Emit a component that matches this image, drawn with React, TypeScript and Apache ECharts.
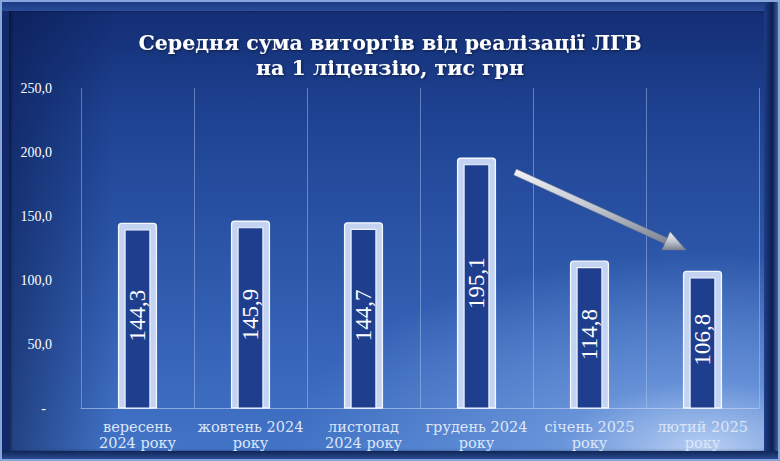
import React, { useEffect, useRef } from "react";
import * as echarts from "echarts";

const categories = [
  "вересень\n2024 року",
  "жовтень 2024\nроку",
  "листопад\n2024 року",
  "грудень 2024\nроку",
  "січень 2025\nроку",
  "лютий 2025\nроку",
];
const values = [144.3, 145.9, 144.7, 195.1, 114.8, 106.8];
const yTicks = [0, 50, 100, 150, 200, 250];
const titleLines = ["Середня сума виторгів від реалізації ЛГВ", "на 1 ліцензію, тис грн"];

const fmt = (v: number) => v.toFixed(1).replace(".", ",");

export default function App() {
  const ref = useRef<HTMLDivElement>(null);
  useEffect(() => {
    if (!ref.current) return;
    const chart = echarts.init(ref.current, null, { renderer: "svg" });
    const S = [515, 172];
    const T = [686, 250];
    const dx = T[0] - S[0], dy = T[1] - S[1];
    const L = Math.hypot(dx, dy);
    const u = [dx / L, dy / L];
    const p = [-u[1], u[0]];
    const B = [T[0] - 22 * u[0], T[1] - 22 * u[1]];
    const hw = 3.2, hh = 10;
    const shaft = [
      [S[0] + hw * p[0], S[1] + hw * p[1]],
      [B[0] + hw * p[0], B[1] + hw * p[1]],
      [B[0] - hw * p[0], B[1] - hw * p[1]],
      [S[0] - hw * p[0], S[1] - hw * p[1]],
    ];
    const head = [
      [B[0] + hh * p[0], B[1] + hh * p[1]],
      T,
      [B[0] - hh * p[0], B[1] - hh * p[1]],
    ];
    const arrowFill = new echarts.graphic.LinearGradient(0, 0, 0, 1, [
      { offset: 0, color: "#f2f3f7" },
      { offset: 0.5, color: "#c4c8d2" },
      { offset: 1, color: "#7c8292" },
    ]);

    chart.setOption({
      animation: false,
      backgroundColor: "transparent",
      title: {
        text: titleLines.join("\n"),
        left: "center",
        top: 30,
        padding: 0,
        textStyle: {
          color: "#ffffff",
          fontFamily: "DejaVu Serif",
          fontWeight: "bold",
          fontSize: 20.5,
          lineHeight: 25,
          textShadowColor: "rgba(0,0,20,0.5)",
          textShadowBlur: 3,
          textShadowOffsetX: 1,
          textShadowOffsetY: 1,
        },
      },
      grid: { left: 81, right: 21, top: 88, bottom: 53, containLabel: false },
      xAxis: {
        type: "category",
        data: categories,
        boundaryGap: true,
        axisLine: { show: true, lineStyle: { color: "rgba(205,220,245,0.55)", width: 1 } },
        axisTick: { show: false },
        splitLine: { show: true, interval: 0, lineStyle: { color: "rgba(185,205,245,0.45)", width: 1 } },
        axisLabel: {
          interval: 0,
          color: "#dce6f8",
          fontFamily: "DejaVu Serif",
          fontSize: 14.5,
          lineHeight: 16,
          margin: 11,
        },
      },
      yAxis: {
        type: "value",
        min: 0,
        max: 250,
        interval: 50,
        axisLine: { show: false },
        axisTick: { show: false },
        splitLine: { show: false },
        axisLabel: {
          margin: 29,
          color: "#ffffff",
          fontFamily: "Liberation Serif",
          fontSize: 14,
          formatter: (v: number) => (yTicks.includes(v) && v === 0 ? "{d|-}" : fmt(v)),
          rich: { d: { color: "#ffffff", fontSize: 14, padding: [0, 6, 0, 0] } },
        },
      },
      series: [
        {
          type: "custom",
          data: values.map((v, i) => [i, v]),
          encode: { x: 0, y: 1 },
          renderItem: (params: any, api: any) => {
            const idx = api.value(0);
            const v = api.value(1);
            const top = api.coord([idx, v]);
            const base = api.coord([idx, 0]);
            const bw = api.size([1, 0])[0] * 0.335;
            const x = top[0] - bw / 2;
            const h = base[1] - top[1];
            const inset = 6.5;
            return {
              type: "group",
              children: [
                {
                  type: "rect",
                  shape: { x, y: top[1], width: bw, height: h, r: [3, 3, 0, 0] },
                  style: { fill: "#c3d3f1", stroke: "#f4f8ff", lineWidth: 1.3 },
                },
                {
                  type: "rect",
                  shape: { x: x + inset, y: top[1] + inset, width: bw - 2 * inset, height: h - inset },
                  style: { fill: "#1f3f8e", stroke: "#eef3ff", lineWidth: 1.2 },
                },
                {
                  type: "text",
                  x: top[0],
                  y: (top[1] + base[1]) / 2,
                  rotation: Math.PI / 2,
                  style: {
                    text: fmt(v),
                    fill: "#ffffff",
                    font: '23px "Liberation Serif"',
                    align: "center",
                    verticalAlign: "middle",
                  },
                },
              ],
            };
          },
        },
      ],
      graphic: [
        {
          type: "polygon",
          shape: { points: shaft },
          style: { fill: arrowFill, stroke: "#6f7584", lineWidth: 0.5 },
          z: 100,
        },
        {
          type: "polygon",
          shape: { points: head },
          style: { fill: arrowFill, stroke: "#6f7584", lineWidth: 0.5 },
          z: 100,
        },
      ],
    });
    return () => chart.dispose();
  }, []);

  return (
    <div
      style={{
        position: "fixed",
        left: 0,
        top: 0,
        width: 780,
        height: 461,
        boxSizing: "border-box",
        border: "2px solid #86a6dc",
        background: "#12296a",
        overflow: "hidden",
      }}
    >
      <div
        style={{
          position: "absolute",
          left: 0,
          top: 0,
          right: 0,
          height: 9,
          background: "linear-gradient(to bottom, #1b3a85, #2a4c98)",
        }}
      />
      <div
        style={{
          position: "absolute",
          right: 0,
          top: 0,
          bottom: 0,
          width: 14,
          background: "linear-gradient(to right, #1e3e86, #0c1f52 60%, #3d5ea0)",
        }}
      />
      <div
        style={{
          position: "absolute",
          left: 0,
          bottom: 0,
          right: 0,
          height: 8,
          background: "linear-gradient(to bottom, #0f2557, #2a4a90)",
        }}
      />
      <div
        style={{
          position: "absolute",
          left: 7,
          top: 9,
          right: 14,
          bottom: 8,
          background:
            "radial-gradient(ellipse 55% 45% at 92% 100%, rgba(190,212,245,0.95) 0%, rgba(130,170,232,0.6) 35%, rgba(80,125,210,0) 100%)," +
            "linear-gradient(to right, rgba(8,25,75,0.55) 0%, rgba(8,25,75,0) 14%, rgba(0,0,0,0) 100%)," +
            "linear-gradient(to bottom, #132e74 0%, #1f4394 25%, #2c56a8 55%, #3866ba 80%, #4274c6 100%)",
          boxShadow: "inset 2px 0 3px rgba(0,0,0,0.4)",
        }}
      />
      <div
        ref={ref}
        style={{ position: "absolute", left: -2, top: -2, width: 780, height: 461 }}
      />
    </div>
  );
}
